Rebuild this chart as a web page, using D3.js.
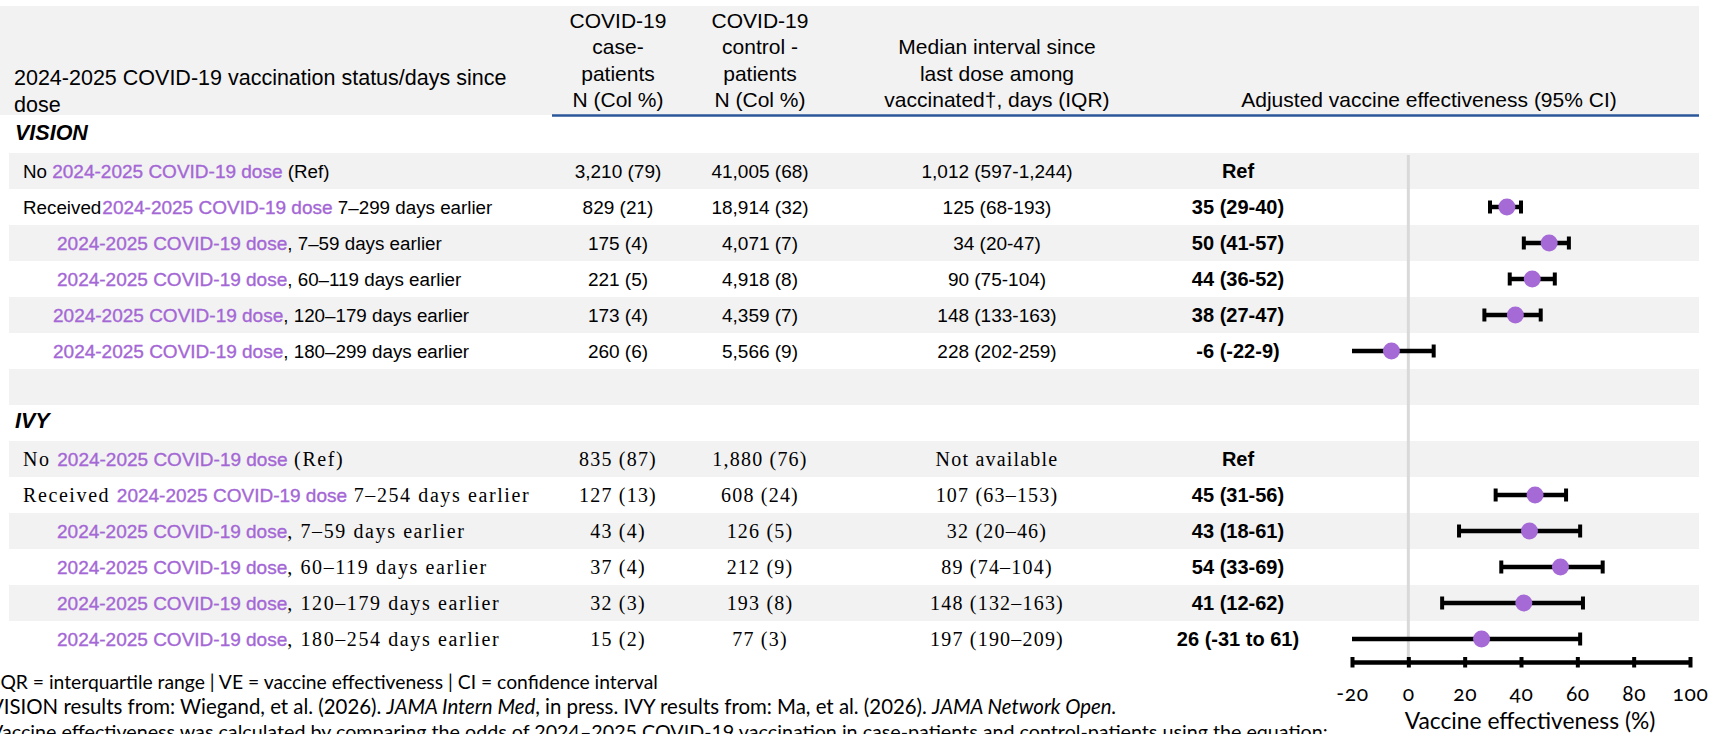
<!DOCTYPE html>
<html>
<head>
<meta charset="utf-8">
<script src="https://cdn.jsdelivr.net/npm/d3@7"></script>
<style>
  html, body { margin: 0; padding: 0; background: #fff; overflow: hidden; }
  svg { display: block; }
  text { white-space: pre; }
</style>
</head>
<body>
<svg id="chart" width="1711" height="734"></svg>
<script>
// ---- Table content -------------------------------------------------------
const doseLabel = "2024-2025 COVID-19 dose";

const headerStatus  = ["2024-2025 COVID-19 vaccination status/days since", "dose"];
const headerCases   = ["COVID-19", "case-", "patients", "N (Col %)"];
const headerControl = ["COVID-19", "control -", "patients", "N (Col %)"];
const headerMedian  = ["Median interval since", "last dose among", "vaccinated†, days (IQR)"];
const headerVE      = ["Adjusted vaccine effectiveness (95% CI)"];

// VISION network
const visionPrefix  = ["No ", "Received", "", "", "", ""];
const visionSuffix  = [" (Ref)", " 7–299 days earlier", ", 7–59 days earlier", ", 60–119 days earlier", ", 120–179 days earlier", ", 180–299 days earlier"];
const visionCases   = ["3,210 (79)", "829 (21)", "175 (4)", "221 (5)", "173 (4)", "260 (6)"];
const visionControl = ["41,005 (68)", "18,914 (32)", "4,071 (7)", "4,918 (8)", "4,359 (7)", "5,566 (9)"];
const visionMedian  = ["1,012 (597-1,244)", "125 (68-193)", "34 (20-47)", "90 (75-104)", "148 (133-163)", "228 (202-259)"];
const visionVE      = [null, 35, 50, 44, 38, -6];
const visionLo      = [null, 29, 41, 36, 27, -22];
const visionHi      = [null, 40, 57, 52, 47, 9];
const visionSep     = ["", "-", "-", "-", "-", "-"];

// IVY network
const ivyPrefix  = ["No ", "Received ", "", "", "", ""];
const ivySuffix  = [" (Ref)", " 7–254 days earlier", ", 7–59 days earlier", ", 60–119 days earlier", ", 120–179 days earlier", ", 180–254 days earlier"];
const ivyCases   = ["835 (87)", "127 (13)", "43 (4)", "37 (4)", "32 (3)", "15 (2)"];
const ivyControl = ["1,880 (76)", "608 (24)", "126 (5)", "212 (9)", "193 (8)", "77 (3)"];
const ivyMedian  = ["Not available", "107 (63–153)", "32 (20–46)", "89 (74–104)", "148 (132–163)", "197 (190–209)"];
const ivyVE      = [null, 45, 43, 54, 41, 26];
const ivyLo      = [null, 31, 18, 33, 12, -31];
const ivyHi      = [null, 56, 61, 69, 62, 61];
const ivySep     = ["", "-", "-", "-", "-", " to "];

const axisTicks = [-20, 0, 20, 40, 60, 80, 100];
const axisTitle = "Vaccine effectiveness (%)";

const footnote1 = "IQR = interquartile range | VE = vaccine effectiveness | CI = confidence interval";
const footnote2 = [
  ["VISION results from: Wiegand, et al. (2026). ", false],
  ["JAMA Intern Med", true],
  [", in press. IVY results from: Ma, et al. (2026). ", false],
  ["JAMA Network Open.", true]
];
const footnote3 = "Vaccine effectiveness was calculated by comparing the odds of 2024–2025 COVID-19 vaccination in case-patients and control-patients using the equation:";

// ---- Styling -------------------------------------------------------------
const purple = "#a467d5";
const dotFill = "#a56ad6";
const stripe = "#f2f2f2";
const sans = "'Liberation Sans', Arial, Helvetica, sans-serif";
const serif = "'Liberation Serif', 'Times New Roman', serif";
const humanist = "Lato, 'Open Sans', sans-serif";

const svg = d3.select("#chart");

// Row bands: study label, six rows, spacer, study label, six rows
const rowKeys = ["visionLabel", "v0", "v1", "v2", "v3", "v4", "v5", "gap", "ivyLabel", "i0", "i1", "i2", "i3", "i4", "i5"];
const y = d3.scaleBand().domain(rowKeys).range([117, 657]);
const x = d3.scaleLinear().domain([-20, 100]).range([1352, 1690]);

const colX = { status: 14, cases: 618, control: 760, median: 997, ve: 1238, veHeader: 1429 };

// header band
svg.append("rect").attr("x", 0).attr("y", 6).attr("width", 1699).attr("height", 109).attr("fill", stripe);
svg.append("line").attr("x1", 552).attr("x2", 1699).attr("y1", 115.5).attr("y2", 115.5)
  .attr("stroke", "#2b579a").attr("stroke-width", 2.5);

const header = svg.append("g").attr("font-family", sans).attr("font-size", 21).attr("fill", "#000");
const lineGap = 26.5;
function headerBlock(lines, cx, anchor, bottomY, size) {
  lines.forEach((t, i) => {
    header.append("text")
      .attr("x", cx)
      .attr("y", bottomY - (lines.length - 1 - i) * lineGap)
      .attr("dy", "0.35em")
      .attr("text-anchor", anchor)
      .attr("font-size", size || 21)
      .text(t);
  });
}
headerBlock(headerStatus, colX.status, "start", 104, 21.5);
headerBlock(headerCases, colX.cases, "middle", 100);
headerBlock(headerControl, colX.control, "middle", 100);
headerBlock(headerMedian, colX.median, "middle", 100);
headerBlock(headerVE, colX.veHeader, "middle", 100);

// striped rows
const striped = ["v0", "v2", "v4", "gap", "i0", "i2", "i4"];
svg.append("g").selectAll("rect").data(striped).join("rect")
  .attr("x", 9).attr("width", 1690)
  .attr("y", d => y(d)).attr("height", y.bandwidth())
  .attr("fill", stripe);

// reference line at 0 % effectiveness
svg.append("line")
  .attr("x1", x(0)).attr("x2", x(0))
  .attr("y1", y("v0") + 2).attr("y2", 660)
  .attr("stroke", "#d9d9d9").attr("stroke-width", 3);

// study labels
svg.append("text").attr("x", 15).attr("y", y("visionLabel") + y.bandwidth() / 2 - 3).attr("dy", "0.35em")
  .attr("font-family", sans).attr("font-size", 21.5).attr("font-weight", "bold").attr("font-style", "italic")
  .text("VISION");
svg.append("text").attr("x", 15).attr("y", y("ivyLabel") + y.bandwidth() / 2 - 3).attr("dy", "0.35em")
  .attr("font-family", sans).attr("font-size", 21.5).attr("font-weight", "bold").attr("font-style", "italic")
  .text("IVY");

const studies = [
  { key: "v", font: sans, labelSize: 18.8, numSize: 19, letter: 0, numLetter: 0,
    labelX: [23, 23, 57, 57, 53, 53],
    prefix: visionPrefix, suffix: visionSuffix, cases: visionCases, control: visionControl,
    median: visionMedian, ve: visionVE, lo: visionLo, hi: visionHi, sep: visionSep },
  { key: "i", font: serif, labelSize: 20, numSize: 20, letter: 1.6, numLetter: 1.2,
    labelX: [23, 23, 57, 57, 57, 57],
    prefix: ivyPrefix, suffix: ivySuffix, cases: ivyCases, control: ivyControl,
    median: ivyMedian, ve: ivyVE, lo: ivyLo, hi: ivyHi, sep: ivySep }
];

const body = svg.append("g");
const forest = svg.append("g");

studies.forEach(s => {
  s.ve.forEach((ve, i) => {
    const key = s.key + i;
    const cy = y(key) + y.bandwidth() / 2;

    // row label: black wording around the purple dose name
    const t = body.append("text").attr("x", s.labelX[i]).attr("y", cy).attr("dy", "0.35em")
      .attr("font-size", s.labelSize).attr("fill", "#000");
    if (s.prefix[i]) t.append("tspan").attr("font-family", s.font).attr("letter-spacing", s.letter).text(s.prefix[i]);
    t.append("tspan").attr("font-family", sans).attr("font-size", 19).attr("fill", purple)
      .attr("stroke", purple).attr("stroke-width", 0.35)
      .attr("dx", s.prefix[i] === "Received" ? 1 : 0).text(doseLabel);
    t.append("tspan").attr("font-family", s.font).attr("letter-spacing", s.letter).text(s.suffix[i]);

    // count and interval columns
    [[s.cases[i], colX.cases], [s.control[i], colX.control], [s.median[i], colX.median]].forEach(([txt, cx]) => {
      body.append("text").attr("x", cx).attr("y", cy).attr("dy", "0.35em")
        .attr("text-anchor", "middle").attr("font-family", s.font).attr("font-size", s.numSize)
        .attr("letter-spacing", s.numLetter)
        .text(txt);
    });

    // adjusted VE label
    const veText = ve === null ? "Ref" : `${ve} (${s.lo[i]}${s.sep[i]}${s.hi[i]})`;
    body.append("text").attr("x", colX.ve).attr("y", cy).attr("dy", "0.35em")
      .attr("text-anchor", "middle").attr("font-family", sans).attr("font-size", 20)
      .attr("font-weight", "bold").text(veText);

    if (ve === null) return;

    // confidence interval, clipped to the axis domain (no cap where clipped)
    const [d0, d1] = x.domain();
    const lo = Math.max(s.lo[i], d0), hi = Math.min(s.hi[i], d1);
    forest.append("line").attr("x1", x(lo)).attr("x2", x(hi)).attr("y1", cy).attr("y2", cy)
      .attr("stroke", "#000").attr("stroke-width", 4.5);
    const caps = [];
    if (s.lo[i] >= d0) caps.push(s.lo[i]);
    if (s.hi[i] <= d1) caps.push(s.hi[i]);
    caps.forEach(c => {
      forest.append("line").attr("x1", x(c)).attr("x2", x(c)).attr("y1", cy - 6.5).attr("y2", cy + 6.5)
        .attr("stroke", "#000").attr("stroke-width", 4);
    });
    forest.append("circle").attr("cx", x(ve)).attr("cy", cy).attr("r", 8.5).attr("fill", dotFill);
  });
});

// x axis
const axis = d3.axisBottom(x).tickValues(axisTicks).tickSizeOuter(0).tickSizeInner(5)
  .tickFormat(d => String(d));
const gAxis = svg.append("g").attr("transform", "translate(0,662)").call(axis);
gAxis.select(".domain").attr("stroke", "#000").attr("stroke-width", 4.5);
gAxis.selectAll(".tick line").attr("y1", -5).attr("y2", 5.5).attr("stroke", "#000").attr("stroke-width", 4);
gAxis.selectAll(".tick text").attr("y", 32).attr("dy", "0.35em")
  .attr("font-family", humanist).attr("font-size", 21).attr("letter-spacing", 0.6)
  .attr("fill", "#000").style("font-feature-settings", "'onum'");
svg.append("text").attr("x", 1530).attr("y", 721).attr("dy", "0.35em").attr("text-anchor", "middle")
  .attr("font-family", humanist).attr("font-size", 22.8).attr("fill", "#000").text(axisTitle);

// footnotes
const foot = svg.append("g").attr("font-family", humanist).attr("fill", "#000");
foot.append("text").attr("x", -5).attr("y", 682).attr("dy", "0.35em").attr("font-size", 19.3).text(footnote1);
const f2 = foot.append("text").attr("x", -10).attr("y", 707).attr("dy", "0.35em").attr("font-size", 20.4);
footnote2.forEach(([txt, it]) => f2.append("tspan").attr("font-style", it ? "italic" : "normal").text(txt));
foot.append("text").attr("x", -10).attr("y", 732).attr("dy", "0.35em").attr("font-size", 19.7).text(footnote3);
</script>
</body>
</html>
